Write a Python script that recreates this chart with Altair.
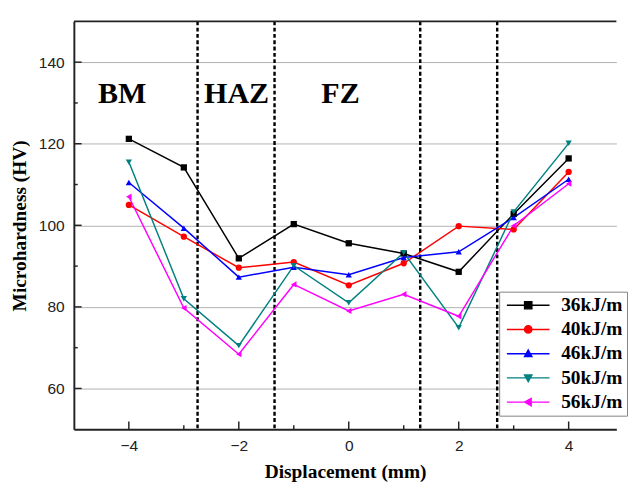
import altair as alt
import pandas as pd

# ---- data ----
displacement = [-4, -3, -2, -1, 0, 1, 2, 3, 4]
series_names = ["36kJ/m", "40kJ/m", "46kJ/m", "50kJ/m", "56kJ/m"]
hv_36 = [121.2, 114.2, 91.9, 100.3, 95.6, 93.1, 88.6, 102.8, 116.4]
hv_40 = [105.0, 97.2, 89.6, 91.0, 85.3, 90.7, 99.8, 99.0, 113.1]
hv_46 = [110.5, 99.3, 87.3, 89.7, 87.9, 92.1, 93.5, 101.9, 111.3]
hv_50 = [115.5, 82.0, 70.5, 90.1, 81.0, 93.3, 74.9, 103.3, 120.1]
hv_56 = [107.0, 79.7, 68.4, 85.5, 79.0, 83.1, 77.7, 99.9, 110.2]
series_colors = ["#000000", "#ff0000", "#0000ff", "#008080", "#ff00ff"]
series_shapes = ["square", "circle", "triangle-up", "triangle-down", "triangle-left"]

zone_bounds = [-2.75, -1.35, 1.3, 2.7]
zone_labels = ["BM", "HAZ", "FZ"]
zone_label_x = [-4.12, -2.04, -0.15]
zone_label_y = [130, 130, 130]

x_major = [-4, -2, 0, 2, 4]
x_minor = [-3, -1, 1, 3]
y_major = [60, 80, 100, 120, 140]
y_minor = [70, 90, 110, 130]

rows = []
for name, vals in zip(series_names, [hv_36, hv_40, hv_46, hv_50, hv_56]):
    for x, v in zip(displacement, vals):
        rows.append({"Displacement": x, "Hardness": v, "Series": name})
df = pd.DataFrame(rows)
zones = pd.DataFrame({"pos": zone_bounds})
labels_df = pd.DataFrame({"label": zone_labels, "x": zone_label_x, "y": zone_label_y})

W, H = 560, 421
xscale = alt.Scale(domain=[-5, 4.868], nice=False, zero=False)
yscale = alt.Scale(domain=[50, 150], nice=False, zero=False)

xaxis = alt.Axis(values=x_major, format="d", title="Displacement (mm)", grid=False, ticks=False,
                 labelPadding=9, titlePadding=9)
yaxis = alt.Axis(values=y_major, format="d", title="Microhardness (HV)", grid=True, ticks=False,
                 labelPadding=10, titlePadding=9)

# legend symbols: a short line with the marker on it (custom SVG paths)
L, R, m, r = -1.2, 7.6, 3.2, 0.75
legend_paths = [
    f"M{L},0H{R}M{m-r},{-r}H{m+r}V{r}H{m-r}Z",
    f"M{L},0H{R}M{m-r},0A{r},{r} 0 1,0 {m+r},0A{r},{r} 0 1,0 {m-r},0Z",
    f"M{L},0H{R}M{m},{-r}L{m+r},{r*0.8}L{m-r},{r*0.8}Z",
    f"M{L},0H{R}M{m},{r}L{m+r},{-r*0.8}L{m-r},{-r*0.8}Z",
    f"M{L},0H{R}M{m-r},0L{m+r*0.8},{-r}L{m+r*0.8},{r}Z",
]

legend = alt.Legend(
    title=None, orient="none", legendX=439, legendY=279,
    symbolSize=100, symbolOpacity=1, symbolStrokeWidth=1.5,
    labelOffset=40, padding=4, rowPadding=5,
    strokeColor="#808080", fillColor="white",
    labelFont="Liberation Serif", labelFontWeight="bold", labelFontSize=20,
    labelColor="black", labelLimit=0,
)

line_layers = []
point_layers = []
for name, c, s in zip(series_names, series_colors, series_shapes):
    base = alt.Chart(df).transform_filter(alt.datum.Series == name)
    line_layers.append(
        base.mark_line(strokeWidth=1.5, color=c).encode(
            x=alt.X("Displacement:Q", scale=xscale, axis=xaxis),
            y=alt.Y("Hardness:Q", scale=yscale, axis=yaxis),
        )
    )
    point_layers.append(
        base.mark_point(filled=True, size=42, opacity=1, shape=s, color=c).encode(
            x=alt.X("Displacement:Q", scale=xscale),
            y=alt.Y("Hardness:Q", scale=yscale),
        )
    )

legend_layer = alt.Chart(df).mark_point(filled=True, opacity=0).encode(
    x=alt.X("Displacement:Q", scale=xscale),
    y=alt.Y("Hardness:Q", scale=yscale),
    color=alt.Color("Series:N", scale=alt.Scale(domain=series_names, range=series_colors), legend=legend),
    stroke=alt.Stroke("Series:N", scale=alt.Scale(domain=series_names, range=series_colors), legend=legend),
    shape=alt.Shape("Series:N", scale=alt.Scale(domain=series_names, range=legend_paths), legend=legend),
)

rules = alt.Chart(zones).mark_rule(color="black", strokeWidth=2.5, strokeDash=[4, 2.5]).encode(
    x=alt.X("pos:Q", scale=xscale)
)

texts = alt.Chart(labels_df).mark_text(
    font="Liberation Serif", fontWeight="bold", fontSize=31, color="black",
    align="center", baseline="alphabetic",
).encode(
    x=alt.X("x:Q", scale=xscale),
    y=alt.Y("y:Q", scale=yscale),
    text="label:N",
)

tick_style = dict(color="#222222", strokeWidth=1.5)
xt_major = alt.Chart(pd.DataFrame({"v": x_major})).mark_rule(**tick_style).encode(
    x=alt.X("v:Q", scale=xscale), y=alt.value(H), y2=alt.value(H - 8))
xt_minor = alt.Chart(pd.DataFrame({"v": x_minor})).mark_rule(**tick_style).encode(
    x=alt.X("v:Q", scale=xscale), y=alt.value(H), y2=alt.value(H - 4))
yt_major = alt.Chart(pd.DataFrame({"v": y_major})).mark_rule(**tick_style).encode(
    y=alt.Y("v:Q", scale=yscale), x=alt.value(0), x2=alt.value(8))
yt_minor = alt.Chart(pd.DataFrame({"v": y_minor})).mark_rule(**tick_style).encode(
    y=alt.Y("v:Q", scale=yscale), x=alt.value(0), x2=alt.value(4))

frame = alt.Chart(pd.DataFrame({"k": [0]})).mark_rule(color="#222222", strokeWidth=2).encode(
    x=alt.value(0), x2=alt.value(W), y=alt.value(0)
)

chart = alt.layer(
    legend_layer, rules, texts, *line_layers, *point_layers,
    xt_major, xt_minor, yt_major, yt_minor, frame
).properties(
    width=W, height=H, padding={"left": 2, "top": 4, "right": 0, "bottom": 4}
).configure_view(stroke=None).configure_axis(
    domainColor="#222222", domainWidth=2,
    labelFont="Liberation Sans", labelFontSize=16, labelColor="#222222",
    titleFont="Liberation Serif", titleFontWeight="bold", titleFontSize=20, titleColor="black",
    gridColor="#b0b0b0", gridWidth=1,
)

chart.save("out.html", embed_options={"renderer": "svg", "actions": False})
